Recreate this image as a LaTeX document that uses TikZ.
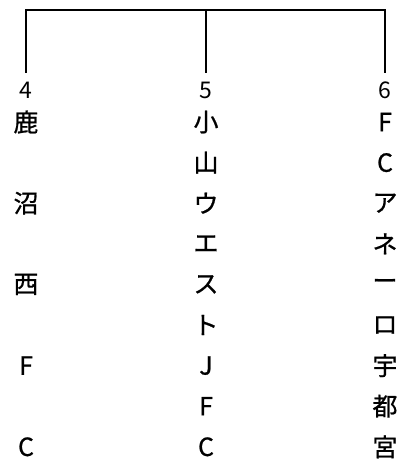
\documentclass[tikz,border=0pt]{standalone}
\usepackage{fontspec}
\setmainfont{Noto Sans CJK JP}
\newfontfamily\glyphfont{Noto Sans CJK JP}[FakeBold=0.8]
\tikzset{
  numlabel/.style={font=\fontsize{23}{23}\selectfont, inner sep=0pt, outer sep=9pt},
  glyph/.style={font=\fontsize{25}{25}\glyphfont, inner sep=0pt},
  bracket/.style={draw, line width=2pt}
}
\begin{document}
\begin{tikzpicture}[x=1pt,y=-1pt]
  \useasboundingbox (0,0) rectangle (400,464);
  % Place nodes
  \node [numlabel] (num4) at (26,90) {4};
  \node [numlabel] (num5) at (206,90) {5};
  \node [numlabel] (num6) at (385,90) {6};
  \coordinate (top) at (206,10);
  \foreach \ch/\i in {鹿/1,沼/3,西/5,F/7,C/9}
    \node [glyph] (left\i) at (26,{81.4+40.6*\i}) {\ch};
  \foreach \ch [count=\i] in {小,山,ウ,エ,ス,ト,J,F,C}
    \node [glyph] (mid\i) at (206,{81.4+40.6*\i}) {\ch};
  \foreach \ch [count=\i] in {F,C,ア,ネ,ー,ロ,宇,都,宮}
    \node [glyph] (right\i) at (385,{81.4+40.6*\i}) {\ch};
  % Draw bracket
  \draw [bracket] (num4.north) |- (top) -| (num6.north);
  \draw [bracket] (num5.north) -- (top);
\end{tikzpicture}
\end{document}
